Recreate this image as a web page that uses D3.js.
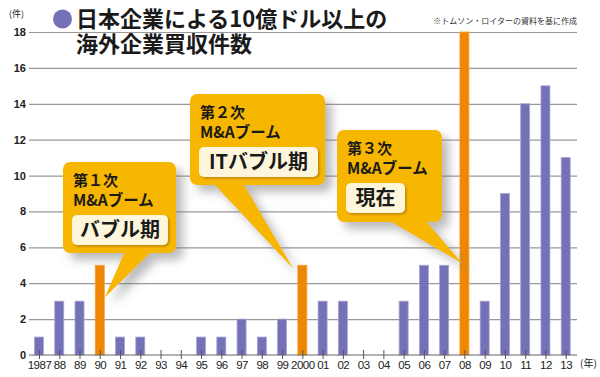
<!DOCTYPE html>
<html>
<head>
<meta charset="utf-8">
<script src="https://cdnjs.cloudflare.com/ajax/libs/d3/7.8.5/d3.min.js"></script>
<style>
  body{ margin:0; background:#fff; }
  text{ font-family:"Noto Sans CJK JP", sans-serif; }
  .num{ font-family:"Liberation Sans", Arial, sans-serif; }
</style>
</head>
<body>
<svg width="600" height="377"></svg>
<script>
// data
const years = ["1987","88","89","90","91","92","93","94","95","96","97","98","99",
               "2000","01","02","03","04","05","06","07","08","09","10","11","12","13"];
const counts = [1,3,3,5,1,1,0,0,1,1,2,1,2,5,3,3,0,0,3,5,5,18,3,9,14,15,11];
const boomYears = ["90","2000","08"];
const yTicks = [0,2,4,6,8,10,12,14,16,18];
const titleLines = ["日本企業による10億ドル以上の","海外企業買収件数"];
const sourceNote = "※トムソン・ロイターの資料を基に作成";
const boomOrder = ["第１次","第２次","第３次"];
const boomName = "M&Aブーム";
const boomLabel = ["バブル期","ITバブル期","現在"];

const svg = d3.select("svg");

const x = d3.scalePoint().domain(years).range([39, 565.7]);
const y = d3.scaleLinear().domain([0, 18]).range([355, 32]);
const bw = 9;

// filter for callout shadows
const defs = svg.append("defs");
const f = defs.append("filter").attr("id", "shadow")
  .attr("x", "-20%").attr("y", "-20%").attr("width", "150%").attr("height", "150%");
f.append("feDropShadow").attr("dx", 7).attr("dy", 7).attr("stdDeviation", 5)
  .attr("flood-color", "#777").attr("flood-opacity", 0.5);
const f2 = defs.append("filter").attr("id", "shadow2");
f2.append("feDropShadow").attr("dx", 1.5).attr("dy", 1.5).attr("stdDeviation", 0.8)
  .attr("flood-color", "#b07800").attr("flood-opacity", 0.8);

// grid
svg.append("g")
  .attr("transform", "translate(29,0)")
  .call(d3.axisLeft(y).tickValues(yTicks).tickSize(-548).tickPadding(3))
  .call(g => g.select(".domain").remove())
  .call(g => g.selectAll(".tick line").attr("stroke", "#999").attr("stroke-width", 1.2)
    .filter(d => d === 0).remove())
  .call(g => g.selectAll(".tick text").attr("class", "num")
    .attr("font-size", 11).attr("fill", "#222").attr("font-weight", "bold"));

// bars
svg.append("g").selectAll("rect")
  .data(years.map((yr, i) => ({ yr, v: counts[i] })))
  .enter().append("rect")
  .attr("x", d => x(d.yr) - bw / 2)
  .attr("y", d => y(d.v))
  .attr("width", bw)
  .attr("height", d => y(0) - y(d.v))
  .attr("fill", d => boomYears.includes(d.yr) ? "#f08700" : "#7571b6")
  .attr("stroke", d => boomYears.includes(d.yr) ? "#f5a030" : "#a8a4d6")
  .attr("stroke-width", 0.8);

// x axis
svg.append("g")
  .attr("transform", "translate(0,355)")
  .call(d3.axisBottom(x).tickSize(4).tickPadding(2))
  .call(g => g.select(".domain").attr("d", "M29,0H577").attr("stroke", "#666").attr("stroke-width", 1.2))
  .call(g => g.selectAll(".tick line").attr("y1", -5).attr("y2", 4).attr("stroke", "#555"))
  .call(g => g.selectAll(".tick text").attr("class", "num")
    .attr("font-size", 11.5).attr("fill", "#222").attr("letter-spacing", -0.5));

svg.append("text").attr("x", 580).attr("y", 367).attr("font-size", 10).attr("fill", "#222").text("(年)");
svg.append("text").attr("x", 9).attr("y", 17).attr("font-size", 9).attr("fill", "#222").text("(件)");

// title
svg.append("circle").attr("cx", 62.5).attr("cy", 19).attr("r", 9.5).attr("fill", "#7571b6");
svg.append("text").attr("font-size", 22).attr("font-weight", "bold").attr("fill", "#1a1a1a")
  .selectAll("tspan").data(titleLines).enter().append("tspan")
  .attr("x", 76).attr("y", (d, i) => 27 + i * 25)
  .text(d => d);
svg.append("text").attr("x", 577).attr("y", 24).attr("text-anchor", "end")
  .attr("font-size", 8).attr("fill", "#333").text(sourceNote);

// callouts
const boxes = [
  { x: 63, y: 162, w: 113, h: 91, b0: 125, b1: 152, tipDx: 5, tipV: 3.2, iw: 96 },
  { x: 190, y: 94, w: 135, h: 91, b0: 213, b1: 243, tipDx: -9, tipV: 4.8, iw: 119 },
  { x: 337, y: 130, w: 105, h: 92, b0: 388, b1: 425, tipDx: -2, tipV: 5.1, iw: 59 }
];
boxes.forEach((b, i) => {
  const tx = x(boomYears[i]) + b.tipDx, ty = y(b.tipV);
  const g = svg.append("g");
  const sh = g.append("g").attr("filter", "url(#shadow)");
  sh.append("rect").attr("x", b.x).attr("y", b.y).attr("width", b.w).attr("height", b.h)
    .attr("rx", 7).attr("fill", "#f7b600");
  sh.append("path").attr("d", `M${b.b0},${b.y + b.h - 2}L${tx},${ty}L${b.b1},${b.y + b.h - 2}Z`)
    .attr("fill", "#f7b600");
  g.append("text").attr("x", b.x + 10).attr("y", b.y + 24).attr("font-size", 15)
    .attr("font-weight", "bold").attr("fill", "#1a1a1a").text(boomOrder[i]);
  g.append("text").attr("x", b.x + 10).attr("y", b.y + 44).attr("font-size", 15.5)
    .attr("font-weight", "bold").attr("fill", "#1a1a1a").text(boomName);
  g.append("rect").attr("x", b.x + 9).attr("y", b.y + 53).attr("width", b.iw).attr("height", 30)
    .attr("rx", 5).attr("fill", "#fdf6da").attr("filter", "url(#shadow2)");
  g.append("text").attr("x", b.x + 9 + b.iw / 2).attr("y", b.y + 75).attr("text-anchor", "middle")
    .attr("font-size", 20).attr("font-weight", "bold").attr("fill", "#1a1a1a").text(boomLabel[i]);
});
</script>
</body>
</html>
